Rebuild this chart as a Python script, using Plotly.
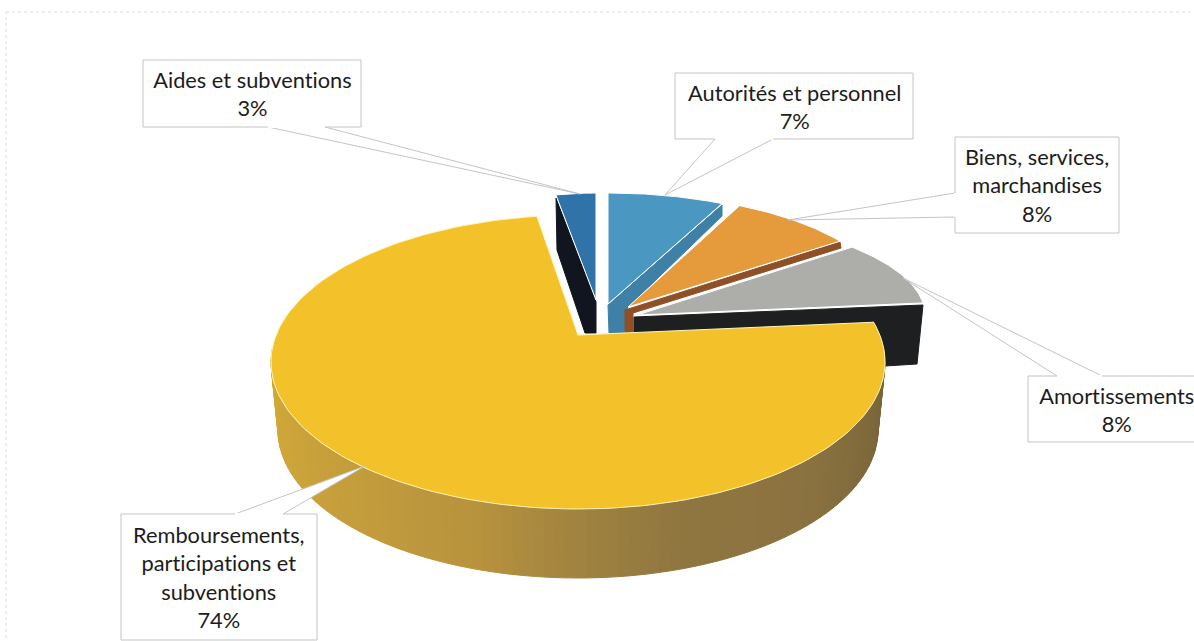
import math
import plotly.graph_objects as go

categories = ["Aides et subventions", "Autorités et personnel", "Biens, services, marchandises",
              "Amortissements", "Remboursements, participations et subventions"]
values = [3, 7, 8, 8, 74]
label_lines = ["Aides et subventions<br>3%", "Autorités et personnel<br>7%",
               "Biens, services,<br>marchandises<br>8%", "Amortissements<br>8%",
               "Remboursements,<br>participations et<br>subventions<br>74%"]

W, H = 1194, 641
FILL = ["#2f73a8", "#4a97c2", "#e59a3c", "#adadaa", "#f3c22b"]
SIDE = ["#10151f", "#3f80a6", "#8f4f27", "#1e1f21", "#b8923f"]
# Perspective of the drawing: apex, radii, angle warp (deg) for each slice
GEOM = [
    dict(ax=596, ay=300, rx=214, ry=107, d0=0, d1=0),
    dict(ax=608, ay=304, rx=268, ry=111, d0=0, d1=0),
    dict(ax=628, ay=307, rx=262, ry=112, d0=0, d1=0),
    dict(ax=637, ay=315, rx=288, ry=102, d0=-5.7, d1=0.4),
]
YC = dict(cx=578, cy=362, rx=307, ry=147, ax=578, ay=335, d0=-8.5, d1=3.1)
YB = dict(cx=578, cy=430, rx=300, ry=148)


def pt(cx, cy, rx, ry, deg):
    t = math.radians(deg)
    return cx + rx * math.sin(t), cy - ry * math.cos(t)


def arc(cx, cy, rx, ry, a0, a1, n=50):
    pts = [pt(cx, cy, rx, ry, a0 + (a1 - a0) * i / n) for i in range(n + 1)]
    return [p[0] for p in pts], [p[1] for p in pts]


def lerp_hex(c0, c1, f):
    a = [int(c0[i:i + 2], 16) for i in (1, 3, 5)]
    b = [int(c1[i:i + 2], 16) for i in (1, 3, 5)]
    return "#" + "".join(f"{round(p + (q - p) * f):02x}" for p, q in zip(a, b))


fig = go.Figure()


def poly(xs, ys, fill, line=None, width=1, name=None):
    fig.add_trace(go.Scatter(
        x=list(xs) + [xs[0]], y=list(ys) + [ys[0]], mode="lines", fill="toself",
        fillcolor=fill, line=dict(color=line or fill, width=width),
        hoverinfo="skip" if name is None else "name", name=name or "", showlegend=False))


# angles from values: first slice ends at 12 o'clock
total = sum(values)
start = -360 * values[0] / total
angles = []
c = start
for v in values:
    angles.append((c, c + 360 * v / total))
    c += 360 * v / total

# side walls of the back slices
poly([556, 557, 585, 596, 596], [198, 250, 333, 333, 302], SIDE[0])
poly([608, 722, 722, 628, 624, 609], [305, 205, 216, 307, 333, 333], SIDE[1])
poly([625, 840, 841, 633, 633, 625], [310, 242, 248, 313, 333, 333], SIDE[2])
poly([634, 923, 917, 885, 634], [317, 305, 364, 366, 333], SIDE[3])

# callouts: two base points on the box edge, then the tip
callouts = [
    ([268, 325, 580], [127, 127, 194]),
    ([715, 773, 665], [139, 139, 195]),
    ([955, 955, 788], [193, 217, 220]),
    ([1057, 1102, 903], [376, 376, 278]),
    ([235, 283, 365], [514, 514, 466]),
]

for i in range(4):
    g = GEOM[i]
    a0, a1 = angles[i][0] + g["d0"], angles[i][1] + g["d1"]
    xs, ys = arc(g["ax"], g["ay"], g["rx"], g["ry"], a0, a1)
    poly([g["ax"]] + xs, [g["ay"]] + ys, FILL[i], line="#ffffff", width=1, name=categories[i])

# yellow outer wall with its shading
stops = [(74, "#6f5e35"), (100, "#7a6639"), (130, "#8a7140"), (160, "#8f7640"), (180, "#a08340"),
         (200, "#b8933d"), (225, "#c39c3c"), (250, "#cca43a"), (275, "#d2a935")]


def shade(a):
    for (p, cp), (q, cq) in zip(stops, stops[1:]):
        if p <= a <= q:
            return lerp_hex(cp, cq, (a - p) / (q - p))
    return stops[-1][1]


N = 100
for k in range(N):
    a = 74 + (275 - 74) * k / N
    b = 74 + (275 - 74) * (k + 1) / N
    t0 = pt(YC["cx"], YC["cy"], YC["rx"], YC["ry"], a)
    t1 = pt(YC["cx"], YC["cy"], YC["rx"], YC["ry"], b)
    b0 = pt(YB["cx"], YB["cy"], YB["rx"], YB["ry"], a)
    b1 = pt(YB["cx"], YB["cy"], YB["rx"], YB["ry"], b)
    poly([t0[0], t1[0], b1[0], b0[0]], [t0[1], t1[1], b1[1], b0[1]], shade((a + b) / 2))

xs, ys = arc(YC["cx"], YC["cy"], YC["rx"], YC["ry"], angles[4][0] + YC["d0"], angles[4][1] + YC["d1"], 160)
poly([YC["ax"]] + xs, [YC["ay"]] + ys, FILL[4], line="#fff6b8", width=1, name=categories[4])

for cx_, cy_ in callouts:
    poly(cx_, cy_, "#ffffff", line="#c4c4c4", width=1)

boxes = [(143, 60, 361, 127), (675, 73, 913, 139), (955, 137, 1119, 233),
         (1028, 376, 1200, 442), (121, 514, 317, 640)]
text_x = [252, 794, 1037, 1116, 219]
shapes = [dict(type="rect", x0=6, y0=12, x1=1200, y1=700, xref="x", yref="y",
               line=dict(color="#dcdcdc", width=1, dash="dot"), layer="below")]
annotations = []
for (x0, y0, x1, y1), tx, txt, (cx_, cy_) in zip(boxes, text_x, label_lines, callouts):
    shapes.append(dict(type="rect", x0=x0, y0=y0, x1=x1, y1=y1, xref="x", yref="y",
                       fillcolor="#ffffff", line=dict(color="#c4c4c4", width=1), layer="above"))
    # open the box edge where the callout joins it
    shapes.append(dict(type="line", x0=cx_[0], y0=cy_[0], x1=cx_[1], y1=cy_[1], xref="x", yref="y",
                       line=dict(color="#ffffff", width=2), layer="above"))
    annotations.append(dict(x=tx, y=(y0 + y1) / 2, xref="x", yref="y", text=txt, showarrow=False,
                            xanchor="center", yanchor="middle", align="center",
                            font=dict(family="Lato", size=21.8, color="#1c1c1c")))

fig.update_layout(
    width=W, height=H, margin=dict(l=0, r=0, t=0, b=0), paper_bgcolor="#ffffff", plot_bgcolor="#ffffff",
    xaxis=dict(range=[0, W], visible=False, fixedrange=True),
    yaxis=dict(range=[H, 0], visible=False, fixedrange=True),
    shapes=shapes, annotations=annotations, showlegend=False,
)
fig.write_html("out.html", config={"displayModeBar": False},
               post_script="document.body.style.margin='0';document.body.style.overflow='hidden';"
                           "var s=document.createElement('style');"
                           "s.textContent='text,tspan{font-variant-ligatures:none !important;"
                           "font-feature-settings:\"liga\" 0,\"clig\" 0 !important;}';"
                           "document.head.appendChild(s);")
